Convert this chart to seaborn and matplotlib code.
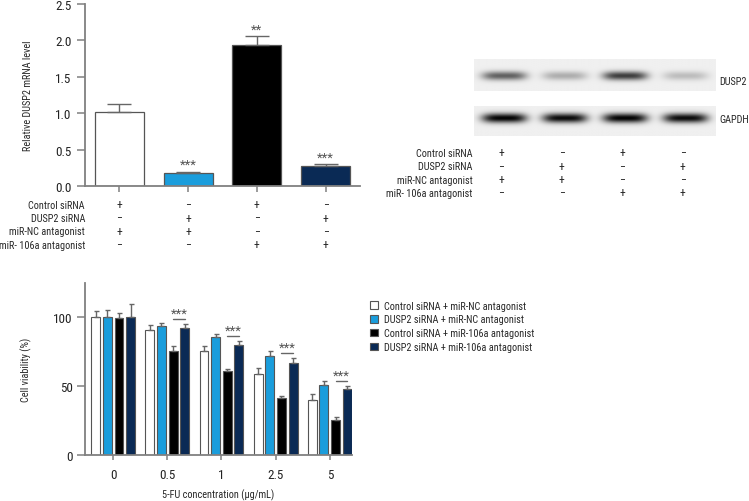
import os
import dataclasses
import numpy as np
import pandas as pd
import seaborn as sns
import matplotlib.pyplot as plt
from matplotlib import font_manager as fm
from matplotlib.textpath import TextPath
from matplotlib.transforms import blended_transform_factory

# ---- data ----
conditions = ['Control siRNA + miR-NC antagonist', 'DUSP2 siRNA + miR-NC antagonist',
              'Control siRNA + miR-106a antagonist', 'DUSP2 siRNA + miR-106a antagonist']
colors = ['#ffffff', '#1a9ddc', '#000000', '#0a2a55']

# relative DUSP2 mRNA level (mean, upper SD)
mrna_mean = [1.01, 0.175, 1.94, 0.275]
mrna_sd = [0.11, 0.022, 0.115, 0.022]
mrna_stars = ['', '***', '**', '***']

# treatment table (+ / -)
row_names = ['Control siRNA', 'DUSP2 siRNA', 'miR-NC antagonist', 'miR- 106a antagonist']
row_signs = [['+', '\u2212', '+', '\u2212'],
             ['\u2212', '+', '\u2212', '+'],
             ['+', '+', '\u2212', '\u2212'],
             ['\u2212', '\u2212', '+', '+']]

# western blot band intensity (0 = none, 1 = black)
dusp2_band = [0.56, 0.26, 0.70, 0.20]
gapdh_band = [0.93, 0.90, 0.93, 0.90]

# cell viability (%) vs 5-FU concentration
fu_conc = ['0', '0.5', '1', '2.5', '5']
via_mean = [[100.5, 91.0, 75.7, 59.1, 40.1],
            [100.5, 93.9, 85.9, 72.0, 50.8],
            [99.3, 75.7, 61.1, 41.4, 25.3],
            [100.5, 92.2, 80.3, 66.9, 48.0]]
via_sd = [[4.1, 3.7, 3.4, 4.2, 4.2],
          [4.8, 2.0, 1.7, 3.4, 3.2],
          [4.1, 3.4, 1.7, 1.4, 2.2],
          [9.0, 2.9, 2.7, 3.4, 2.1]]
via_stars = ['', '***', '***', '***', '***']

sns.set_style('ticks')

# pick a narrow font (the original uses a condensed face)
family = 'Liberation Sans'
wanted = ['liberationsansnarrow', 'notosanscondensed', 'robotocondensed',
          'dejavusanscondensed', 'opensanscondensed', 'opensanscondensedregular']
files = {}
for f in fm.fontManager.ttflist:
    stem = os.path.basename(f.fname).rsplit('.', 1)[0].lower().replace('-', '').replace('_', '')
    files[stem] = f
for w in wanted:
    f = files.get(w) or files.get(w + 'regular')
    if f is not None:
        fm.fontManager.ttflist.insert(0, dataclasses.replace(f, name='PlotNarrow', stretch='normal'))
        family = 'PlotNarrow'
        break
plt.rcParams['font.family'] = [family, 'DejaVu Sans']


def fit(text, target_px):
    w = TextPath((0, 0), text, size=10, prop=fm.FontProperties(family=family)).get_extents().width
    return 10 * target_px / (w * 100 / 72)


fs = fit('Control siRNA', 56)      # label text
fs_tick = fit('100', 17.5)         # tick numbers
fs_sign = min(fit('+', 5.5), 8.5)  # + / - marks
fs_star = fit('***', 17)

plt.rcParams['axes.edgecolor'] = '#808080'
plt.rcParams['axes.linewidth'] = 1.3
plt.rcParams['xtick.color'] = '#808080'
plt.rcParams['ytick.color'] = '#808080'
plt.rcParams['xtick.labelcolor'] = '#222222'
plt.rcParams['ytick.labelcolor'] = '#222222'

W, H = 749, 502
fig = plt.figure(figsize=(W / 100, H / 100), dpi=100)


def px_axes(x0, y0, x1, y1):
    return fig.add_axes([x0 / W, 1 - y1 / H, (x1 - x0) / W, (y1 - y0) / H])


# ---- top-left: mRNA level ----
ax1 = px_axes(85, 5, 360, 187)
df1 = pd.DataFrame({'cond': conditions, 'level': mrna_mean})
sns.barplot(data=df1, x='cond', y='level', hue='cond', palette=colors, order=conditions,
            hue_order=conditions, width=0.71, saturation=1, edgecolor='#555555',
            linewidth=0.9, legend=False, ax=ax1)
bars = ax1.patches
xs = [b.get_x() + b.get_width() / 2 for b in bars]
ax1.errorbar(xs, mrna_mean, yerr=[np.zeros(4), mrna_sd], fmt='none', ecolor='#666666',
             elinewidth=1.0, capsize=8.3, capthick=1.0, zorder=1)
for x, m, s, st in zip(xs, mrna_mean, mrna_sd, mrna_stars):
    if st:
        ax1.text(x, m + s + 0.1, st, ha='center', va='center', fontsize=fs_star, color='#555555')
ax1.set_xlim(-0.5, 3.5)
ax1.set_ylim(0, 2.5)
ax1.set_yticks([0, 0.5, 1.0, 1.5, 2.0, 2.5])
ax1.set_yticklabels(['0.0', '0.5', '1.0', '1.5', '2.0', '2.5'])
ax1.set_xticks(range(4))
ax1.set_xticklabels([])
ax1.set_xlabel('')
ax1.set_ylabel('Relative DUSP2 mRNA level', fontsize=fs)
ax1.yaxis.set_label_coords(-0.19, 0.5)
ax1.tick_params(axis='y', length=5.8, width=1.1, pad=4, labelsize=fs_tick)
ax1.tick_params(axis='x', length=4, width=1.1)
sns.despine(ax=ax1)

tr1 = blended_transform_factory(ax1.transData, fig.transFigure)
for r, (name, signs) in enumerate(zip(row_names, row_signs)):
    yy = 1 - (205.7 + 13.3 * r) / H
    ax1.text(-0.5, yy, name, transform=tr1, ha='right', va='center', fontsize=fs)
    for i, sg in enumerate(signs):
        ax1.text(i, yy, sg, transform=tr1, ha='center', va='center', fontsize=fs_sign)


# ---- top-right: western blot ----
def strip(levels, ax, sy, yc):
    gx = np.linspace(0, 4, 480)
    gy = np.linspace(-1, 1, 80)
    X, Y = np.meshgrid(gx, gy)
    img = np.full(X.shape, 0.94)
    for i, lv in enumerate(levels):
        prof = np.exp(-((X - (i + 0.5)) / 0.37) ** 4 - ((Y - yc) / sy) ** 2)
        img -= lv * prof
    ax.imshow(np.clip(img, 0, 1), cmap='gray', vmin=0, vmax=1, aspect='auto',
              extent=(0, 4, -1, 1), interpolation='bilinear')
    ax.set_axis_off()


axb1 = px_axes(474, 60, 716, 92)
strip(dusp2_band, axb1, 0.28, 0.05)
axb2 = px_axes(474, 107, 716, 137)
strip(gapdh_band, axb2, 0.32, -0.2)
fig.text(719 / W, 1 - 81.7 / H, 'DUSP2', ha='left', va='center', fontsize=fs)
fig.text(719 / W, 1 - 120.3 / H, 'GAPDH', ha='left', va='center', fontsize=fs)

trb = blended_transform_factory(axb1.transData, fig.transFigure)
for r, (name, signs) in enumerate(zip(row_names, row_signs)):
    yy = 1 - (154 + 13.3 * r) / H
    axb1.text(-0.02, yy, name, transform=trb, ha='right', va='center', fontsize=fs)
    for i, sg in enumerate(signs):
        axb1.text(i + 0.45, yy, sg, transform=trb, ha='center', va='center', fontsize=fs_sign)

# ---- bottom: cell viability ----
ax2 = px_axes(85, 284, 352, 456)
rows = []
for c, means in zip(conditions, via_mean):
    for conc, m in zip(fu_conc, means):
        rows.append({'conc': conc, 'cond': c, 'viability': m})
df2 = pd.DataFrame(rows)
sns.barplot(data=df2, x='conc', y='viability', hue='cond', order=fu_conc,
            hue_order=conditions, palette=colors, width=0.86, gap=0.23, saturation=1,
            edgecolor='#555555', linewidth=0.8, errorbar=None, ax=ax2)
centers = []
for cont, means, sds in zip(ax2.containers, via_mean, via_sd):
    cx = [b.get_x() + b.get_width() / 2 for b in cont]
    centers.append(cx)
    ax2.errorbar(cx, means, yerr=[np.zeros(len(means)), sds], fmt='none', ecolor='#666666',
                 elinewidth=1.0, capsize=1.8, capthick=1.0, zorder=1)
for g, st in enumerate(via_stars):
    if not st:
        continue
    top = max(via_mean[2][g] + via_sd[2][g], via_mean[3][g] + via_sd[3][g]) + 3.5
    ax2.plot([centers[2][g], centers[3][g]], [top, top], color='#666666', lw=1.0)
    ax2.text((centers[2][g] + centers[3][g]) / 2, top + 4.5, st, ha='center', va='center',
             fontsize=fs_star, color='#555555')
ax2.set_xlim(-0.52, 4.41)
ax2.set_ylim(0, 125)
ax2.set_yticks([0, 50, 100])
ax2.set_xlabel('5-FU concentration (\u03bcg/mL)', fontsize=fs, labelpad=5)
ax2.set_ylabel('Cell viability (%)', fontsize=fs)
ax2.yaxis.set_label_coords(-0.2, 0.5)
ax2.tick_params(axis='y', length=6, width=1.1, pad=3, labelsize=fs_tick)
ax2.tick_params(axis='x', length=3.5, width=1.1, pad=6, labelsize=fs_tick)
sns.despine(ax=ax2)

handles, labels = ax2.get_legend_handles_labels()
ax2.legend(handles, labels, loc='upper left', bbox_to_anchor=(370 / W, 1 - 301.5 / H),
           bbox_transform=fig.transFigure, frameon=False, fontsize=fs,
           handlelength=0.75, handleheight=0.75, handletextpad=0.6, labelspacing=0.38,
           borderpad=0, borderaxespad=0)

fig.savefig('out.png', dpi=100)
